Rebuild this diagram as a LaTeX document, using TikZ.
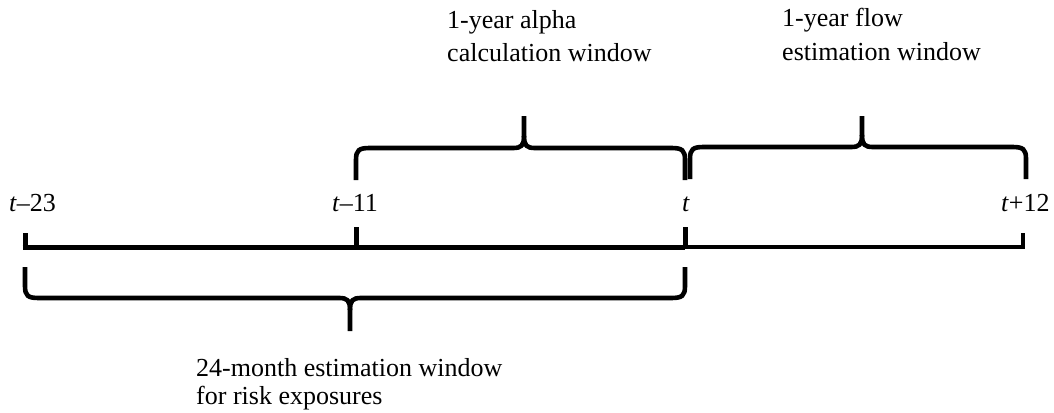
\documentclass[tikz,border=0pt]{standalone}
\usepackage{fontspec}
\setmainfont{Liberation Serif}
\begin{document}
\begin{tikzpicture}[x=1pt,y=-1pt,
  lbl/.style={inner sep=0pt,anchor=base west,font=\fontsize{26}{30}\selectfont},
  brace/.style={line width=4.6pt,line join=round},
  axis/.style={line width=5pt},
  axisthin/.style={line width=3.4pt}]
\useasboundingbox (0,0) rectangle (1054,412);
% timeline
\coordinate (a) at (25,247);
\coordinate (b) at (356,247);
\coordinate (c) at (685,247);
\coordinate (d) at (1023,247);
\draw[axis] ([xshift=-2.5pt]a) -- (c);
\draw[axisthin] (c) -- ([xshift=1.7pt]d);
\draw[axis] (a) -- ++(0,-14);
\draw[axis] (b) -- ++(0,-20);
\draw[axis] (c) -- ++(0,-20);
\draw[axisthin] (d) -- ++(0,-14);
% labels on timeline
\node[lbl] (l23) at (9,211) {\textit{t}–23};
\node[lbl] (l11) at (332,211) {\textit{t}–11};
\node[lbl] (l0) at (682,211) {\textit{t}};
\node[lbl] (l12) at (1001,211) {\textit{t}+12};
% top brace 1 (alpha)
\draw[brace] (356,180) -- (356,160) .. controls (356,150) and (359,148) .. (370,148)
  -- (513,148) .. controls (521,148) and (524,146) .. (524,136) -- (524,116);
\draw[brace] (685,180) -- (685,160) .. controls (685,150) and (682,148) .. (671,148)
  -- (535,148) .. controls (527,148) and (524,146) .. (524,136);
% top brace 2 (flow)
\draw[brace] (690,179) -- (690,159) .. controls (690,149) and (693,147) .. (704,147)
  -- (851,147) .. controls (859,147) and (862,145) .. (862,135) -- (862,116);
\draw[brace] (1026,179) -- (1026,159) .. controls (1026,149) and (1023,147) .. (1012,147)
  -- (873,147) .. controls (865,147) and (862,145) .. (862,135);
% bottom brace
\draw[brace] (25,267) -- (25,286) .. controls (25,296) and (28,298) .. (39,298)
  -- (339,298) .. controls (347,298) and (350,300) .. (350,310) -- (350,331);
\draw[brace] (685,267) -- (685,286) .. controls (685,296) and (682,298) .. (671,298)
  -- (361,298) .. controls (353,298) and (350,300) .. (350,310);
% brace labels
\node[lbl] (al1) at (447,29) {1-year alpha};
\node[lbl] (al2) at (447,62) {calculation window};
\node[lbl] (fl1) at (782,27) {1-year flow};
\node[lbl] (fl2) at (782,60) {estimation window};
\node[lbl] (ri1) at (196,376) {24-month estimation window};
\node[lbl] (ri2) at (196,404) {for risk exposures};
\end{tikzpicture}
\end{document}
